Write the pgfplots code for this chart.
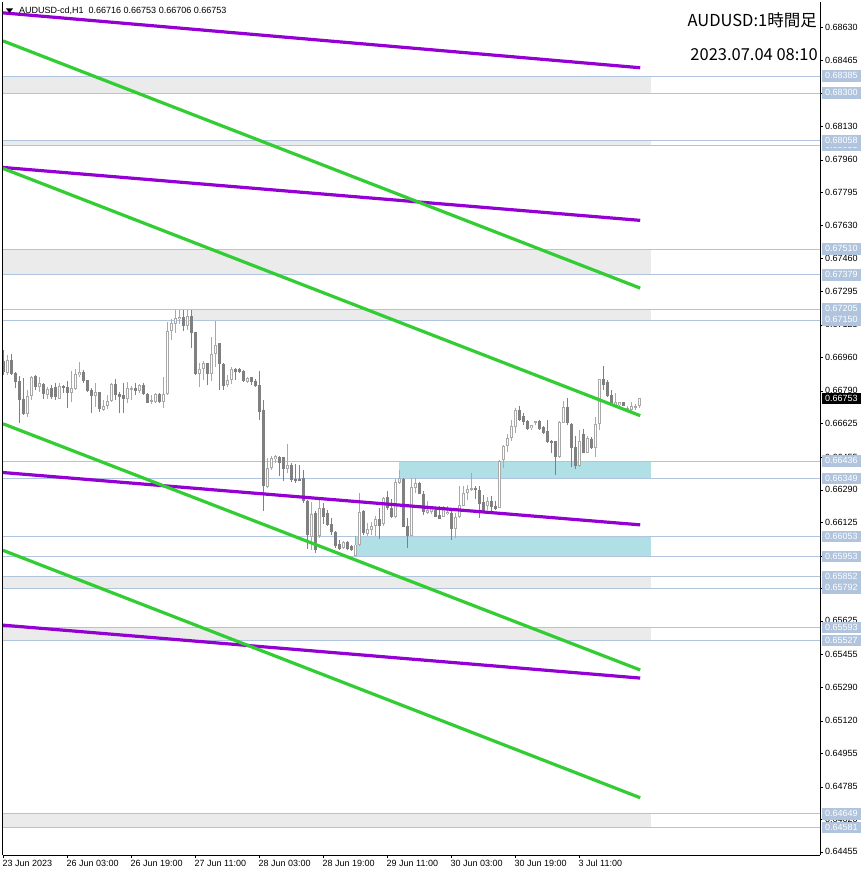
\documentclass[border=0pt]{standalone}
\usepackage{pgfplots}
\usepackage{pgfplotstable}
\pgfplotsset{compat=1.18}
\usepackage{fontspec}
\setmainfont{Liberation Sans}
\newfontfamily\cjk{Noto Sans CJK JP}
\definecolor{bullc}{HTML}{A9A9A9}
\definecolor{bearc}{HTML}{808080}
\definecolor{lvl}{HTML}{B0C4DE}
\definecolor{zoneg}{HTML}{EBEBEB}
\definecolor{zonec}{HTML}{B0E0E6}
\definecolor{purp}{HTML}{9400D3}
\definecolor{grn}{HTML}{32CD32}

\pgfplotstableread{
i o h l c
1 0.66884 0.66973 0.66872 0.66948
6 0.66679 0.66797 0.66662 0.66768
7 0.66768 0.66867 0.66746 0.66861
9 0.66813 0.66861 0.66788 0.66830
11 0.66771 0.66813 0.66749 0.66800
14 0.66753 0.66834 0.66749 0.66817
17 0.66783 0.66894 0.66738 0.66805
18 0.66803 0.66906 0.66797 0.66877
19 0.66872 0.66940 0.66864 0.66886
23 0.66768 0.66830 0.66712 0.66785
25 0.66696 0.66746 0.66692 0.66716
26 0.66716 0.66771 0.66699 0.66741
27 0.66743 0.66830 0.66738 0.66825
31 0.66751 0.66839 0.66729 0.66805
32 0.66797 0.66817 0.66746 0.66805
34 0.66793 0.66827 0.66780 0.66820
37 0.66738 0.66771 0.66726 0.66746
38 0.66739 0.66780 0.66729 0.66775
40 0.66738 0.66864 0.66704 0.66776
41 0.66776 0.67142 0.66771 0.67096
42 0.67096 0.67158 0.67049 0.67133
43 0.67133 0.67201 0.67083 0.67158
44 0.67158 0.67201 0.67130 0.67167
46 0.67120 0.67201 0.67100 0.67170
49 0.66881 0.66931 0.66813 0.66903
50 0.66901 0.66945 0.66850 0.66931
52 0.66877 0.67066 0.66839 0.66977
53 0.66978 0.67147 0.66914 0.67024
56 0.66822 0.66872 0.66813 0.66847
57 0.66847 0.66914 0.66827 0.66904
61 0.66839 0.66864 0.66830 0.66855
66 0.66309 0.66452 0.66300 0.66401
67 0.66401 0.66463 0.66393 0.66450
68 0.66447 0.66468 0.66426 0.66460
71 0.66396 0.66524 0.66376 0.66415
77 0.66056 0.66228 0.65989 0.66170
79 0.66056 0.66250 0.66048 0.66199
85 0.65997 0.66032 0.65989 0.66023
88 0.65959 0.66056 0.65955 0.66014
89 0.66014 0.66275 0.66009 0.66179
91 0.66070 0.66124 0.66056 0.66093
92 0.66090 0.66127 0.66065 0.66107
93 0.66107 0.66157 0.66060 0.66144
95 0.66119 0.66255 0.66107 0.66250
98 0.66154 0.66343 0.66149 0.66331
99 0.66326 0.66393 0.66322 0.66348
102 0.66060 0.66351 0.66056 0.66305
103 0.66300 0.66351 0.66275 0.66326
106 0.66178 0.66233 0.66166 0.66191
107 0.66178 0.66208 0.66166 0.66195
110 0.66157 0.66208 0.66154 0.66203
111 0.66170 0.66212 0.66166 0.66179
113 0.66093 0.66174 0.66048 0.66152
114 0.66154 0.66312 0.66149 0.66213
115 0.66213 0.66312 0.66208 0.66275
116 0.66275 0.66317 0.66242 0.66295
117 0.66292 0.66376 0.66284 0.66300
121 0.66211 0.66258 0.66191 0.66233
124 0.66199 0.66443 0.66196 0.66435
125 0.66443 0.66519 0.66401 0.66514
126 0.66514 0.66574 0.66485 0.66553
127 0.66553 0.66645 0.66536 0.66612
128 0.66612 0.66704 0.66578 0.66693
132 0.66603 0.66620 0.66595 0.66617
133 0.66632 0.66637 0.66620 0.66637
139 0.66460 0.66637 0.66452 0.66632
140 0.66632 0.66743 0.66629 0.66710
144 0.66413 0.66595 0.66409 0.66536
146 0.66480 0.66565 0.66477 0.66550
148 0.66502 0.66662 0.66460 0.66625
149 0.66625 0.66855 0.66595 0.66850
153 0.66721 0.66780 0.66716 0.66733
154 0.66721 0.66738 0.66713 0.66733
156 0.66699 0.66713 0.66696 0.66704
157 0.66696 0.66738 0.66693 0.66713
158 0.66710 0.66726 0.66696 0.66713
159 0.66716 0.66753 0.66706 0.66753
}\bull

\pgfplotstableread{
i o h l c
0 0.66940 0.66999 0.66872 0.66889
2 0.66948 0.66978 0.66872 0.66877
3 0.66881 0.66889 0.66805 0.66839
4 0.66842 0.66867 0.66628 0.66749
5 0.66749 0.66855 0.66670 0.66674
8 0.66864 0.66871 0.66797 0.66813
10 0.66825 0.66830 0.66749 0.66775
12 0.66805 0.66822 0.66749 0.66763
13 0.66810 0.66830 0.66746 0.66763
15 0.66817 0.66822 0.66780 0.66808
16 0.66810 0.66842 0.66704 0.66783
20 0.66889 0.66898 0.66830 0.66844
21 0.66844 0.66847 0.66788 0.66793
22 0.66797 0.66805 0.66682 0.66768
24 0.66785 0.66788 0.66687 0.66699
28 0.66825 0.66852 0.66746 0.66771
29 0.66776 0.66788 0.66679 0.66763
30 0.66771 0.66830 0.66682 0.66751
33 0.66807 0.66830 0.66771 0.66793
35 0.66820 0.66830 0.66771 0.66776
36 0.66776 0.66780 0.66729 0.66733
39 0.66775 0.66783 0.66729 0.66738
45 0.67167 0.67201 0.67096 0.67120
47 0.67170 0.67201 0.67007 0.67086
48 0.67086 0.67091 0.66872 0.66877
51 0.66931 0.66935 0.66822 0.66877
54 0.67032 0.67036 0.66797 0.66928
55 0.66928 0.66931 0.66797 0.66817
58 0.66903 0.66909 0.66847 0.66889
59 0.66901 0.66906 0.66881 0.66889
60 0.66893 0.66898 0.66834 0.66844
62 0.66859 0.66864 0.66822 0.66839
63 0.66842 0.66852 0.66813 0.66818
64 0.66822 0.66894 0.66642 0.66687
65 0.66696 0.66746 0.66182 0.66309
69 0.66457 0.66463 0.66359 0.66426
70 0.66457 0.66460 0.66334 0.66396
72 0.66418 0.66426 0.66329 0.66342
73 0.66346 0.66423 0.66325 0.66339
74 0.66346 0.66418 0.66334 0.66339
75 0.66351 0.66393 0.66224 0.66233
76 0.66233 0.66241 0.65992 0.66065
78 0.66174 0.66183 0.65972 0.65989
80 0.66199 0.66225 0.66115 0.66157
81 0.66174 0.66191 0.66107 0.66115
82 0.66115 0.66149 0.66065 0.66077
83 0.66077 0.66082 0.65997 0.66006
84 0.66014 0.66040 0.65985 0.65992
86 0.66026 0.66032 0.65985 0.65992
87 0.66006 0.66014 0.65980 0.65989
90 0.66183 0.66187 0.66065 0.66073
94 0.66141 0.66199 0.66040 0.66110
96 0.66255 0.66284 0.66191 0.66199
97 0.66199 0.66245 0.66149 0.66154
100 0.66348 0.66351 0.66107 0.66107
101 0.66107 0.66149 0.65997 0.66056
104 0.66326 0.66329 0.66267 0.66270
105 0.66270 0.66284 0.66161 0.66178
108 0.66188 0.66199 0.66154 0.66157
109 0.66161 0.66208 0.66141 0.66144
112 0.66174 0.66183 0.66040 0.66093
118 0.66300 0.66309 0.66242 0.66295
119 0.66287 0.66309 0.66149 0.66221
120 0.66228 0.66267 0.66174 0.66183
122 0.66233 0.66258 0.66183 0.66204
123 0.66208 0.66233 0.66191 0.66196
129 0.66693 0.66713 0.66637 0.66645
130 0.66662 0.66679 0.66620 0.66637
131 0.66640 0.66645 0.66595 0.66600
134 0.66637 0.66642 0.66595 0.66600
135 0.66608 0.66615 0.66574 0.66581
136 0.66586 0.66645 0.66527 0.66536
137 0.66536 0.66544 0.66477 0.66531
138 0.66536 0.66539 0.66367 0.66460
141 0.66710 0.66755 0.66620 0.66629
142 0.66623 0.66629 0.66406 0.66502
143 0.66507 0.66561 0.66396 0.66413
145 0.66575 0.66598 0.66477 0.66480
147 0.66550 0.66558 0.66497 0.66502
150 0.66850 0.66918 0.66797 0.66822
151 0.66834 0.66847 0.66763 0.66767
152 0.66772 0.66794 0.66730 0.66733
155 0.66733 0.66738 0.66713 0.66716
}\bear

\tikzset{lab/.style={fill=lvl, text=white, font=\fontsize{9}{10}\selectfont, inner xsep=3pt, inner ysep=1.5pt, text height=7pt, text depth=1.5pt, anchor=west},
cur/.style={lab, fill=black}}
\pgfplotsset{candle/.style={only marks, mark size=0pt, mark options={draw=none, fill=none}, forget plot, error bars/.cd, y dir=both, y explicit, error mark=none}}

\begin{document}
\begin{tikzpicture}
\begin{axis}[name=ax, scale only axis, width=817.5pt, height=853pt,
 xmin=-0.125, xmax=204.25, ymin=0.64441, ymax=0.68761,
 axis x line*=bottom, axis y line*=right,
 axis line style={black, line width=0.9pt},
 tick style={black, line width=0.8pt},
 tick align=outside, major tick length=3pt,
 xtick={0,16,...,144},
 xticklabels={23 Jun 2023, 26 Jun 03:00, 26 Jun 19:00, 27 Jun 11:00, 28 Jun 03:00, 28 Jun 19:00, 29 Jun 11:00, 30 Jun 03:00, 30 Jun 19:00, 3 Jul 11:00},
 ytick={0.68630,0.68465,0.68300,0.68130,0.67960,0.67795,0.67630,0.67460,0.67295,0.67125,0.66960,0.66790,0.66625,0.66455,0.66290,0.66125,0.65955,0.65790,0.65625,0.65455,0.65290,0.65120,0.64955,0.64785,0.64620,0.64455},
 yticklabels={0.68630,0.68465,0.68300,0.68130,0.67960,0.67795,0.67630,0.67460,0.67295,0.67125,0.66960,0.66790,0.66625,0.66455,0.66290,0.66125,0.65955,0.65790,0.65625,0.65455,0.65290,0.65120,0.64955,0.64785,0.64620,0.64455},
 tick label style={font=\fontsize{9}{10}\selectfont, text height=7pt, text depth=1.5pt},
 x tick label style={anchor=north west, inner sep=0pt, yshift=-1.5pt, xshift=-0.5pt},
 y tick label style={anchor=west, inner sep=0pt, xshift=2pt},
 clip=true]

% zones
\addplot[fill=zoneg, draw=none, forget plot] coordinates {(0,0.68385) (161.9,0.68385) (161.9,0.68300) (0,0.68300)} -- cycle;
\addplot[fill=zoneg, draw=none, forget plot] coordinates {(0,0.68058) (161.9,0.68058) (161.9,0.68033) (0,0.68033)} -- cycle;
\addplot[fill=zoneg, draw=none, forget plot] coordinates {(0,0.67510) (161.9,0.67510) (161.9,0.67379) (0,0.67379)} -- cycle;
\addplot[fill=zoneg, draw=none, forget plot] coordinates {(47.2,0.67205) (161.9,0.67205) (161.9,0.67150) (47.2,0.67150)} -- cycle;
\addplot[fill=zonec, draw=none, forget plot] coordinates {(99,0.66436) (161.9,0.66436) (161.9,0.66349) (99,0.66349)} -- cycle;
\addplot[fill=zonec, draw=none, forget plot] coordinates {(88,0.66053) (161.9,0.66053) (161.9,0.65953) (88,0.65953)} -- cycle;
\addplot[fill=zoneg, draw=none, forget plot] coordinates {(0,0.65852) (161.9,0.65852) (161.9,0.65792) (0,0.65792)} -- cycle;
\addplot[fill=zoneg, draw=none, forget plot] coordinates {(0,0.65593) (161.9,0.65593) (161.9,0.65527) (0,0.65527)} -- cycle;
\addplot[fill=zoneg, draw=none, forget plot] coordinates {(0,0.64649) (161.9,0.64649) (161.9,0.64581) (0,0.64581)} -- cycle;

% level lines
\pgfplotsinvokeforeach{68385,68300,68058,68033,67510,67379,67205,67150,66436,66349,66053,65953,65852,65792,65593,65527,64649,64581}{
 \addplot[lvl, line width=1pt, forget plot] coordinates {(-1,0.#1) (206,0.#1)};
 \coordinate (lv#1) at (axis cs:204.25,0.#1);
}

% bear candles
\addplot[candle, error bar style={bearc, line width=1pt}]
 table[x=i, y expr=(\thisrow{h}+\thisrow{l})/2, y error expr=(\thisrow{h}-\thisrow{l})/2] {\bear};
\addplot[candle, error bar style={bearc, line width=3pt}]
 table[x=i, y expr=(\thisrow{o}+\thisrow{c})/2, y error expr=abs(\thisrow{o}-\thisrow{c})/2+0.00001] {\bear};
% bull candles
\addplot[candle, error bar style={bullc, line width=1pt}]
 table[x=i, y expr=(\thisrow{h}+\thisrow{l})/2, y error expr=(\thisrow{h}-\thisrow{l})/2] {\bull};
\addplot[candle, error bar style={bullc, line width=3pt}]
 table[x=i, y expr=(\thisrow{o}+\thisrow{c})/2, y error expr=abs(\thisrow{o}-\thisrow{c})/2+0.00001] {\bull};
\addplot[candle, error bar style={white, line width=1pt}]
 table[x=i, y expr=(\thisrow{o}+\thisrow{c})/2, y error expr={max(abs(\thisrow{o}-\thisrow{c})/2-0.00004,0)}] {\bull};

% trend lines
\addplot[purp, line width=3.2pt, forget plot] coordinates {(0,0.68706) (159.3,0.68428)};
\addplot[purp, line width=3.2pt, forget plot] coordinates {(0,0.67923) (159.3,0.67655)};
\addplot[purp, line width=3.2pt, forget plot] coordinates {(0,0.66378) (159.3,0.66113)};
\addplot[purp, line width=3.2pt, forget plot] coordinates {(0,0.65605) (159.3,0.65337)};
\addplot[grn, line width=3.2pt, forget plot] coordinates {(0,0.68564) (159.3,0.67312)};
\addplot[grn, line width=3.2pt, forget plot] coordinates {(0,0.67918) (159.3,0.66666)};
\addplot[grn, line width=3.2pt, forget plot] coordinates {(0,0.66625) (159.3,0.65378)};
\addplot[grn, line width=3.2pt, forget plot] coordinates {(0,0.65984) (159.3,0.64731)};

\coordinate (curp) at (axis cs:204.25,0.66753);
\end{axis}

\draw[black, line width=0.9pt] (ax.south west) -- (ax.north west);

% level labels
\foreach \v in {68385,68300,68033,68058,67510,67379,67205,67150,66436,66349,66053,65953,65852,65792,65593,65527,64649,64581}{
 \node[lab] at ([xshift=2pt]lv\v) {0.\v};
}
\node[cur] at ([xshift=2pt]curp) {0.66753};

% header
\fill[black] ([shift={(3.5pt,-6.5pt)}]ax.north west) -- ++(7pt,0) -- ++(-3.5pt,-4.5pt) -- cycle;
\node[anchor=west, inner sep=0pt, font=\fontsize{9}{10}\selectfont] at ([shift={(16.5pt,-9pt)}]ax.north west) {AUDUSD-cd,H1\hspace{5pt}0.66716 0.66753 0.66706 0.66753};
\node[anchor=east, inner sep=0pt, font=\cjk\fontsize{16.5}{18}\selectfont] at ([shift={(-3pt,-18pt)}]ax.north east) {AUDUSD:1時間足};
\node[anchor=east, inner sep=0pt, font=\cjk\fontsize{16.5}{18}\selectfont] at ([shift={(-2pt,-53pt)}]ax.north east) {2023.07.04 08:10};

\pgfresetboundingbox
\path[use as bounding box] ([shift={(-2.5pt,-21pt)}]ax.south west) rectangle ([shift={(46pt,2pt)}]ax.north east);
\end{tikzpicture}
\end{document}
